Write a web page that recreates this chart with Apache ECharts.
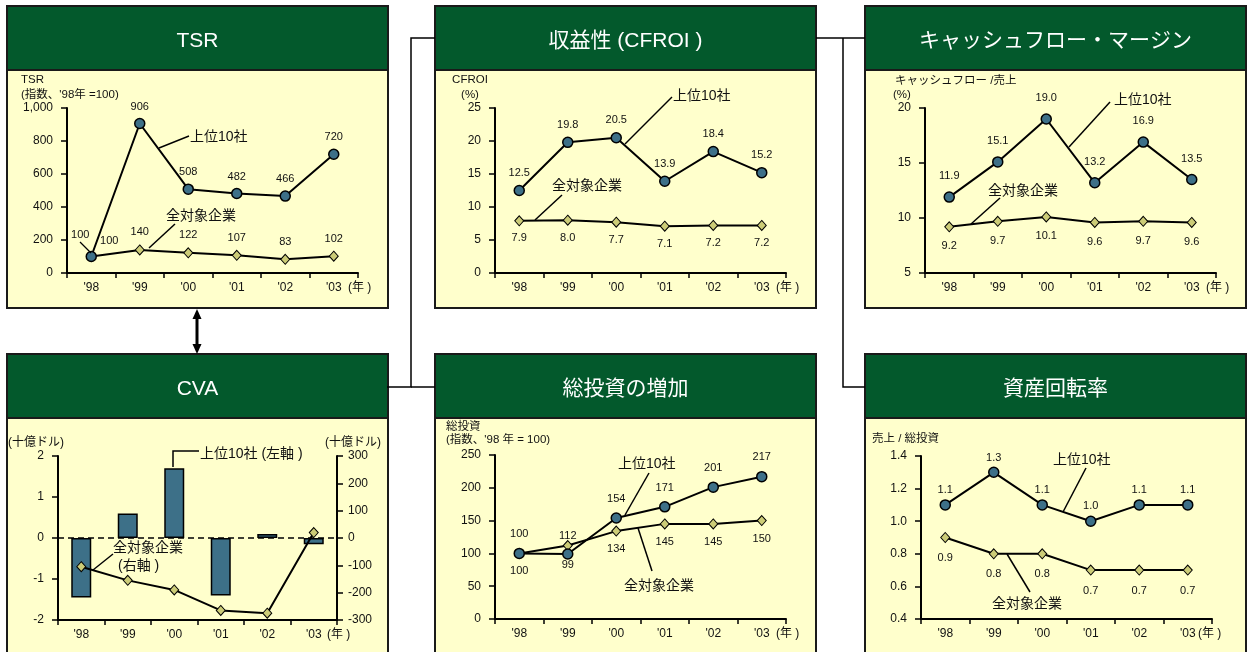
<!DOCTYPE html>
<html>
<head>
<meta charset="utf-8">
<title>上位10社と全対象企業の比較</title>
<script src="https://cdn.jsdelivr.net/npm/echarts@6/dist/echarts.min.js"></script>
<style>
  html, body { margin: 0; padding: 0; background: #fff; }
  #main { width: 1247px; height: 652px; }
</style>
</head>
<body>
<div id="main"></div>
<script>
// ---- data ----
var years = ["'98", "'99", "'00", "'01", "'02", "'03"]

var tsrTop = [100, 906, 508, 482, 466, 720]
var tsrAll = [100, 140, 122, 107, 83, 102]

var cfroiTop = [12.5, 19.8, 20.5, 13.9, 18.4, 15.2]
var cfroiAll = [7.9, 8.0, 7.7, 7.1, 7.2, 7.2]

var cfmTop = [11.9, 15.1, 19.0, 13.2, 16.9, 13.5]
var cfmAll = [9.2, 9.7, 10.1, 9.6, 9.7, 9.6]

var cvaTop = [-1.45, 0.6, 1.7, -1.4, 0.1, -0.15]   // 十億ドル, left axis
var cvaAll = [-105, -155, -190, -265, -275, 20]    // 十億ドル, right axis

var invTop = [100, 99, 154, 171, 201, 217]
var invAll = [100, 112, 134, 145, 145, 150]

var turnTop = [1.1, 1.3, 1.1, 1.0, 1.1, 1.1]
var turnAll = [0.9, 0.8, 0.8, 0.7, 0.7, 0.7]

var TOP_NAME = '上位10社'
var ALL_NAME = '全対象企業'

// ---- look ----
var FONT = "'Liberation Sans', 'Noto Sans CJK JP', sans-serif"
var GREEN = '#03592c'
var PAPER = '#ffffcc'
var BLUE = '#3d7088'
var KHAKI = '#cccc77'
var INK = '#111111'

// panel boxes: left, top, height, title
var panels = [
  [7, 6, 302, 'TSR'],
  [435, 6, 302, '収益性 (CFROI )'],
  [865, 6, 302, 'キャッシュフロー・マージン'],
  [7, 354, 320, 'CVA'],
  [435, 354, 320, '総投資の増加'],
  [865, 354, 320, '資産回転率']
]
var PANEL_W = 381

// plot areas: left, top, width, height
var grids = [
  [67, 108, 291, 165],
  [495, 108, 291, 165],
  [925, 108, 291, 165],
  [58, 456, 279, 164],
  [495, 455, 291, 164],
  [921, 456, 291, 163]
]

// label tweaks where the print moves a label off its usual spot
var tsrTopLbl = { 0: { position: 'top', offset: [-11, -5] } }
var tsrAllLbl = { 0: { position: 'top', offset: [18, 2] } }
var invTopLbl = { 1: { position: 'bottom', distance: 0 } }
var invAllLbl = { 1: { position: 'top', distance: -1 } }

function withLabels(values, tweaks) {
  return values.map(function (v, i) {
    return tweaks && tweaks[i] ? { value: v, label: tweaks[i] } : v
  })
}

function fmt0(p) { return String(p.value) }
function fmt1(p) { return Number(p.value).toFixed(1) }

function catAxis(gi) {
  return {
    type: 'category', gridIndex: gi, data: years, boundaryGap: true,
    axisLine: { onZero: false, lineStyle: { color: '#000', width: 2 } },
    axisTick: { show: true, inside: false, length: 5, lineStyle: { color: '#000', width: 1.5 } },
    axisLabel: { margin: 9, fontSize: 12, color: INK, fontFamily: FONT },
    splitLine: { show: false }
  }
}

function valAxis(gi, min, max, interval, extra) {
  var ax = {
    type: 'value', gridIndex: gi, min: min, max: max, interval: interval,
    axisLine: { show: true, onZero: false, lineStyle: { color: '#000', width: 2 } },
    axisTick: { show: true, inside: false, length: 6, lineStyle: { color: '#000', width: 1.5 } },
    axisLabel: { margin: 14, fontSize: 12, color: INK, fontFamily: FONT },
    splitLine: { show: false }
  }
  return Object.assign(ax, extra || {})
}

function lineSeries(name, xi, yi, data, isTop, pos, dist, fmt) {
  return {
    name: name, type: 'line', xAxisIndex: xi, yAxisIndex: yi, data: data,
    symbol: isTop ? 'circle' : 'diamond',
    symbolSize: isTop ? 10 : [9, 10],
    showAllSymbol: true,
    lineStyle: { color: '#000', width: 2 },
    itemStyle: { color: isTop ? BLUE : KHAKI, borderColor: '#000', borderWidth: isTop ? 1.5 : 1 },
    label: { show: !!fmt, position: pos, distance: dist, fontSize: 11, color: INK, fontFamily: FONT, formatter: fmt },
    emphasis: { disabled: true },
    z: isTop ? 4 : 3
  }
}

// ---- decorations: boxes, headers, connectors, notes ----
var g = []
panels.forEach(function (p) {
  g.push({ type: 'rect', z: -10, shape: { x: p[0], y: p[1], width: PANEL_W, height: p[2] },
    style: { fill: PAPER, stroke: '#1a1a1a', lineWidth: 2 } })
  g.push({ type: 'rect', z: -9, shape: { x: p[0], y: p[1], width: PANEL_W, height: 64 },
    style: { fill: GREEN, stroke: '#1a1a1a', lineWidth: 2 } })
  g.push({ type: 'text', z: -8, x: p[0] + PANEL_W / 2, y: p[1] + 35,
    style: { text: p[3], fill: '#fff', font: '21px ' + FONT, align: 'center', verticalAlign: 'middle' } })
})

// "(年 )" after the last year on each x axis
grids.forEach(function (gr, i) {
  g.push({ type: 'text', z: 10, x: gr[0] + gr[2] - (i === 5 ? 14 : 10), y: gr[1] + gr[3] + 15,
    style: { text: '(年 )', fill: INK, font: '12px ' + FONT, align: 'left', verticalAlign: 'middle' } })
})

function note(x, y, text, size, align) {
  g.push({ type: 'text', z: 10, x: x, y: y,
    style: { text: text, fill: INK, font: (size || 14) + 'px ' + FONT, align: align || 'left', verticalAlign: 'middle' } })
}
function seg(pts, w) {
  g.push({ type: 'polyline', z: 10, shape: { points: pts },
    style: { stroke: '#000', lineWidth: w || 1.5, fill: null } })
}

// connectors between panels
seg([[435, 38], [411, 38], [411, 387], [387, 387]], 1.5)
seg([[411, 387], [435, 387]], 1.5)
seg([[816, 38], [865, 38]], 1.5)
seg([[843, 38], [843, 387], [865, 387]], 1.5)
seg([[197, 316], [197, 347]], 3)
g.push({ type: 'polygon', z: 10, shape: { points: [[197, 309], [192.5, 319], [201.5, 319]] }, style: { fill: '#000' } })
g.push({ type: 'polygon', z: 10, shape: { points: [[197, 354], [192.5, 344], [201.5, 344]] }, style: { fill: '#000' } })

// axis titles
note(21, 80, 'TSR', 11.5)
note(21, 95, "(指数、'98年 =100)", 11.5)
note(470, 80, 'CFROI', 11.5, 'center')
note(470, 95, '(%)', 11.5, 'center')
note(895, 81, 'キャッシュフロー /売上', 11.5)
note(893, 95, '(%)', 11.5)
note(8, 443, '(十億ドル)', 12)
note(325, 443, '(十億ドル)', 12)
note(446, 427, '総投資', 11.5)
note(446, 440, "(指数、'98 年 = 100)", 11.5)
note(872, 439, '売上 / 総投資', 11.5)

// series call-outs
note(190, 137, TOP_NAME); seg([[189, 136], [159, 148]])
note(166, 216, ALL_NAME); seg([[175, 224], [149, 248]])
seg([[80, 242], [91, 253]], 1.2)

note(673, 96, TOP_NAME); seg([[672, 97], [625, 144]])
note(552, 186, ALL_NAME); seg([[562, 195], [535, 220]])

note(1114, 100, TOP_NAME); seg([[1110, 102], [1069, 147]])
note(988, 191, ALL_NAME); seg([[1000, 198], [971, 224]])

note(200, 454, TOP_NAME + ' (左軸 )'); seg([[173, 467], [173, 451], [199, 451]])
note(113, 548, ALL_NAME); note(118, 566, '(右軸 )')
seg([[93, 570], [113, 554]])

note(618, 464, TOP_NAME); seg([[649, 473], [625, 515]])
note(624, 586, ALL_NAME); seg([[638, 528], [652, 571]])

note(1053, 460, TOP_NAME); seg([[1086, 468], [1063, 512]])
note(992, 604, ALL_NAME); seg([[1007, 554], [1030, 592]])

var option = {
  animation: false,
  backgroundColor: '#ffffff',
  textStyle: { fontFamily: FONT },
  grid: grids.map(function (gr) {
    return { left: gr[0], top: gr[1], width: gr[2], height: gr[3], containLabel: false, outerBoundsMode: 'none' }
  }),
  xAxis: [0, 1, 2, 3, 4, 5].map(catAxis),
  yAxis: [
    valAxis(0, 0, 1000, 200, { axisLabel: { margin: 14, fontSize: 12, color: INK, fontFamily: FONT,
      formatter: function (v) { return String(v).replace(/\B(?=(\d{3})+(?!\d))/g, ',') } } }),
    valAxis(1, 0, 25, 5),
    valAxis(2, 5, 20, 5),
    valAxis(3, -2, 2, 1, { position: 'left' }),
    valAxis(3, -300, 300, 100, { position: 'right', axisLabel: { margin: 11, fontSize: 12, color: INK, fontFamily: FONT } }),
    valAxis(4, 0, 250, 50),
    valAxis(5, 0.4, 1.4, 0.2, { axisLabel: { margin: 14, fontSize: 12, color: INK, fontFamily: FONT,
      formatter: function (v) { return v.toFixed(1) } } })
  ],
  series: [
    lineSeries(ALL_NAME, 0, 0, withLabels(tsrAll, tsrAllLbl), false, 'top', 6.5, fmt0),
    lineSeries(TOP_NAME, 0, 0, withLabels(tsrTop, tsrTopLbl), true, 'top', 5.5, fmt0),

    lineSeries(ALL_NAME, 1, 1, cfroiAll, false, 'bottom', 6.5, fmt1),
    lineSeries(TOP_NAME, 1, 1, cfroiTop, true, 'top', 6.5, fmt1),

    lineSeries(ALL_NAME, 2, 2, cfmAll, false, 'bottom', 8.5, fmt1),
    lineSeries(TOP_NAME, 2, 2, cfmTop, true, 'top', 9.5, fmt1),

    {
      name: TOP_NAME, type: 'bar', xAxisIndex: 3, yAxisIndex: 3, data: cvaTop, barWidth: 20,
      itemStyle: { color: BLUE, borderColor: '#000', borderWidth: 1.5 },
      emphasis: { disabled: true },
      markLine: {
        silent: true, symbol: 'none', label: { show: false },
        lineStyle: { color: '#000', width: 1.5, type: [6, 4] },
        data: [{ yAxis: 0 }]
      },
      z: 2
    },
    lineSeries(ALL_NAME, 3, 4, cvaAll, false, 'top', 5, null),

    lineSeries(ALL_NAME, 4, 5, withLabels(invAll, invAllLbl), false, 'bottom', 7, fmt0),
    lineSeries(TOP_NAME, 4, 5, withLabels(invTop, invTopLbl), true, 'top', 8, fmt0),

    lineSeries(ALL_NAME, 5, 6, turnAll, false, 'bottom', 9.5, fmt1),
    lineSeries(TOP_NAME, 5, 6, turnTop, true, 'top', 3.5, fmt1)
  ],
  graphic: { elements: g }
}

var chart = echarts.init(document.getElementById('main'))
chart.setOption(option)
window.addEventListener('resize', function () {
  chart.resize()
})
</script>
</body>
</html>
